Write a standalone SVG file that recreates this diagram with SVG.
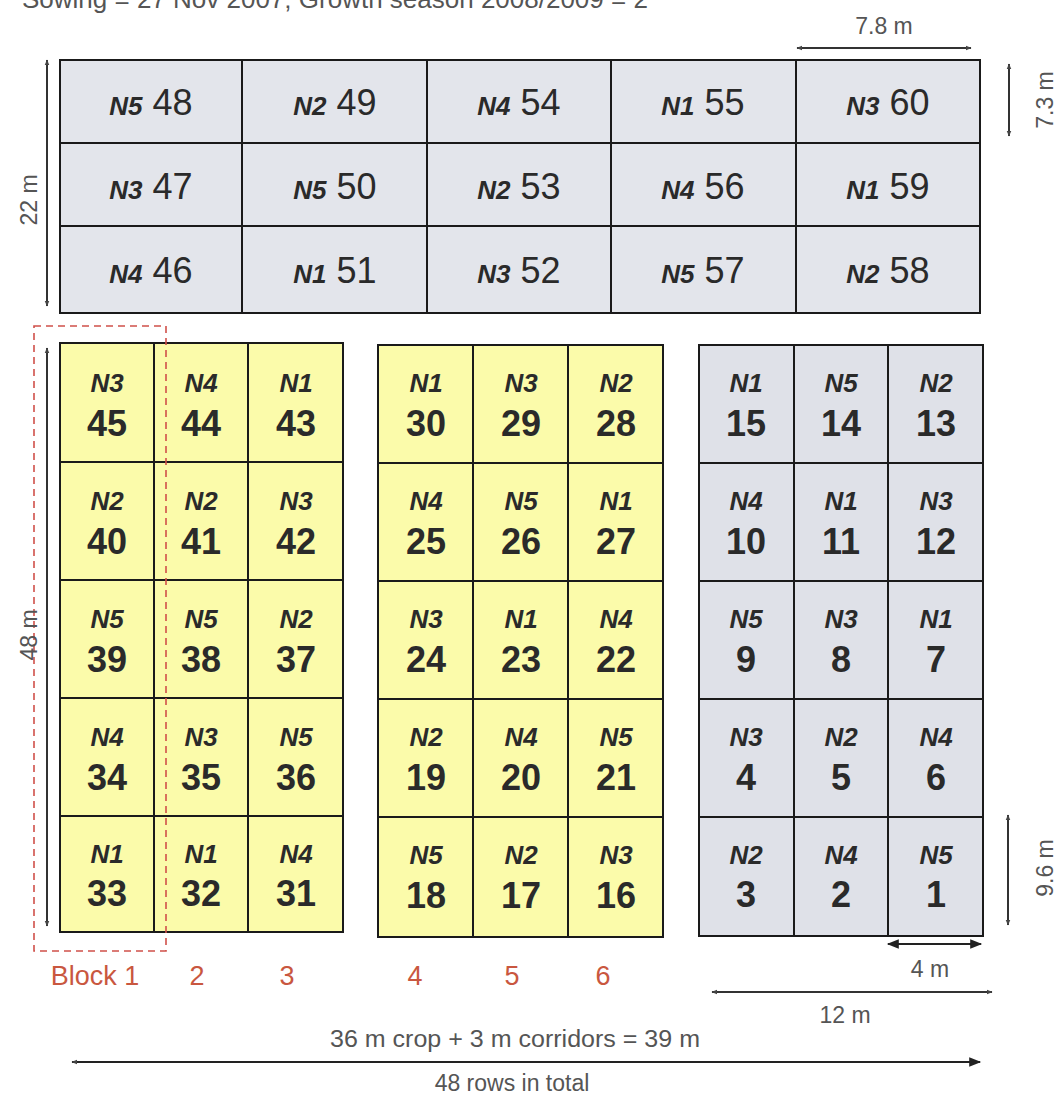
<svg xmlns="http://www.w3.org/2000/svg" width="1058" height="1095" viewBox="0 0 1058 1095">
<defs>
<style>
.cellT{fill:#e3e5eb;stroke:#1a1a1a;stroke-width:2}
.cellY{fill:#fbfbaa;stroke:#1a1a1a;stroke-width:2}
.cellG{fill:#dfe1e8;stroke:#1a1a1a;stroke-width:2}
.n{font-family:"Liberation Sans",Arial,sans-serif;font-weight:bold;font-style:italic;fill:#2a2a2a;font-size:26px}
.numT{font-family:"Liberation Sans",Arial,sans-serif;font-size:36px;fill:#2a2a2a}
.numB{font-family:"Liberation Sans",Arial,sans-serif;font-size:36px;font-weight:bold;fill:#2a2a2a}
.dim{stroke:#333;stroke-width:2;fill:none}
.dimt{font-family:"Liberation Sans",Arial,sans-serif;font-size:23px;fill:#555}
.blk{font-family:"Liberation Sans",Arial,sans-serif;font-size:27px;fill:#c9573f}
</style>
<marker id="ah" viewBox="0 0 10 10" refX="9" refY="5" markerWidth="6" markerHeight="6" orient="auto-start-reverse" markerUnits="userSpaceOnUse">
<path d="M0,1 L10,5 L0,9 z" fill="#444"/>
</marker>
<marker id="ahb" viewBox="0 0 10 10" refX="9" refY="5" markerWidth="14" markerHeight="12" orient="auto-start-reverse" markerUnits="userSpaceOnUse">
<path d="M0,1 L10,5 L0,9 z" fill="#222"/>
</marker>
</defs>
<rect width="1058" height="1095" fill="#ffffff"/>
<text x="22" y="8" font-family="Liberation Sans,Arial,sans-serif" font-size="26" fill="#555">Sowing = 27 Nov 2007; Growth season 2008/2009 = 2</text>

<g id="top-grid">
<g id="p48"><rect class="cellT" x="60" y="60" width="182" height="83"/><text x="151" y="115" text-anchor="middle"><tspan class="n">N5</tspan><tspan class="numT"> 48</tspan></text></g>
<g id="p49"><rect class="cellT" x="242" y="60" width="185" height="83"/><text x="335" y="115" text-anchor="middle"><tspan class="n">N2</tspan><tspan class="numT"> 49</tspan></text></g>
<g id="p54"><rect class="cellT" x="427" y="60" width="184" height="83"/><text x="519" y="115" text-anchor="middle"><tspan class="n">N4</tspan><tspan class="numT"> 54</tspan></text></g>
<g id="p55"><rect class="cellT" x="611" y="60" width="185" height="83"/><text x="703" y="115" text-anchor="middle"><tspan class="n">N1</tspan><tspan class="numT"> 55</tspan></text></g>
<g id="p60"><rect class="cellT" x="796" y="60" width="184" height="83"/><text x="888" y="115" text-anchor="middle"><tspan class="n">N3</tspan><tspan class="numT"> 60</tspan></text></g>

<g id="p47"><rect class="cellT" x="60" y="143" width="182" height="83"/><text x="151" y="199" text-anchor="middle"><tspan class="n">N3</tspan><tspan class="numT"> 47</tspan></text></g>
<g id="p50"><rect class="cellT" x="242" y="143" width="185" height="83"/><text x="335" y="199" text-anchor="middle"><tspan class="n">N5</tspan><tspan class="numT"> 50</tspan></text></g>
<g id="p53"><rect class="cellT" x="427" y="143" width="184" height="83"/><text x="519" y="199" text-anchor="middle"><tspan class="n">N2</tspan><tspan class="numT"> 53</tspan></text></g>
<g id="p56"><rect class="cellT" x="611" y="143" width="185" height="83"/><text x="703" y="199" text-anchor="middle"><tspan class="n">N4</tspan><tspan class="numT"> 56</tspan></text></g>
<g id="p59"><rect class="cellT" x="796" y="143" width="184" height="83"/><text x="888" y="199" text-anchor="middle"><tspan class="n">N1</tspan><tspan class="numT"> 59</tspan></text></g>

<g id="p46"><rect class="cellT" x="60" y="226" width="182" height="87"/><text x="151" y="283" text-anchor="middle"><tspan class="n">N4</tspan><tspan class="numT"> 46</tspan></text></g>
<g id="p51"><rect class="cellT" x="242" y="226" width="185" height="87"/><text x="335" y="283" text-anchor="middle"><tspan class="n">N1</tspan><tspan class="numT"> 51</tspan></text></g>
<g id="p52"><rect class="cellT" x="427" y="226" width="184" height="87"/><text x="519" y="283" text-anchor="middle"><tspan class="n">N3</tspan><tspan class="numT"> 52</tspan></text></g>
<g id="p57"><rect class="cellT" x="611" y="226" width="185" height="87"/><text x="703" y="283" text-anchor="middle"><tspan class="n">N5</tspan><tspan class="numT"> 57</tspan></text></g>
<g id="p58"><rect class="cellT" x="796" y="226" width="184" height="87"/><text x="888" y="283" text-anchor="middle"><tspan class="n">N2</tspan><tspan class="numT"> 58</tspan></text></g>
</g>

<g id="yellow-left">
<g id="p45"><rect class="cellY" x="60" y="343" width="94" height="119"/><text class="n" x="107" y="392" text-anchor="middle">N3</text><text class="numB" x="107" y="436" text-anchor="middle">45</text></g>
<g id="p44"><rect class="cellY" x="154" y="343" width="94" height="119"/><text class="n" x="201" y="392" text-anchor="middle">N4</text><text class="numB" x="201" y="436" text-anchor="middle">44</text></g>
<g id="p43"><rect class="cellY" x="248" y="343" width="95" height="119"/><text class="n" x="296" y="392" text-anchor="middle">N1</text><text class="numB" x="296" y="436" text-anchor="middle">43</text></g>

<g id="p40"><rect class="cellY" x="60" y="462" width="94" height="118"/><text class="n" x="107" y="510" text-anchor="middle">N2</text><text class="numB" x="107" y="554" text-anchor="middle">40</text></g>
<g id="p41"><rect class="cellY" x="154" y="462" width="94" height="118"/><text class="n" x="201" y="510" text-anchor="middle">N2</text><text class="numB" x="201" y="554" text-anchor="middle">41</text></g>
<g id="p42"><rect class="cellY" x="248" y="462" width="95" height="118"/><text class="n" x="296" y="510" text-anchor="middle">N3</text><text class="numB" x="296" y="554" text-anchor="middle">42</text></g>

<g id="p39"><rect class="cellY" x="60" y="580" width="94" height="118"/><text class="n" x="107" y="628" text-anchor="middle">N5</text><text class="numB" x="107" y="672" text-anchor="middle">39</text></g>
<g id="p38"><rect class="cellY" x="154" y="580" width="94" height="118"/><text class="n" x="201" y="628" text-anchor="middle">N5</text><text class="numB" x="201" y="672" text-anchor="middle">38</text></g>
<g id="p37"><rect class="cellY" x="248" y="580" width="95" height="118"/><text class="n" x="296" y="628" text-anchor="middle">N2</text><text class="numB" x="296" y="672" text-anchor="middle">37</text></g>

<g id="p34"><rect class="cellY" x="60" y="698" width="94" height="118"/><text class="n" x="107" y="746" text-anchor="middle">N4</text><text class="numB" x="107" y="790" text-anchor="middle">34</text></g>
<g id="p35"><rect class="cellY" x="154" y="698" width="94" height="118"/><text class="n" x="201" y="746" text-anchor="middle">N3</text><text class="numB" x="201" y="790" text-anchor="middle">35</text></g>
<g id="p36"><rect class="cellY" x="248" y="698" width="95" height="118"/><text class="n" x="296" y="746" text-anchor="middle">N5</text><text class="numB" x="296" y="790" text-anchor="middle">36</text></g>

<g id="p33"><rect class="cellY" x="60" y="816" width="94" height="116"/><text class="n" x="107" y="863" text-anchor="middle">N1</text><text class="numB" x="107" y="906" text-anchor="middle">33</text></g>
<g id="p32"><rect class="cellY" x="154" y="816" width="94" height="116"/><text class="n" x="201" y="863" text-anchor="middle">N1</text><text class="numB" x="201" y="906" text-anchor="middle">32</text></g>
<g id="p31"><rect class="cellY" x="248" y="816" width="95" height="116"/><text class="n" x="296" y="863" text-anchor="middle">N4</text><text class="numB" x="296" y="906" text-anchor="middle">31</text></g>
</g>

<g id="yellow-mid">
<g id="p30"><rect class="cellY" x="378" y="345" width="95" height="118"/><text class="n" x="426" y="392" text-anchor="middle">N1</text><text class="numB" x="426" y="436" text-anchor="middle">30</text></g>
<g id="p29"><rect class="cellY" x="473" y="345" width="95" height="118"/><text class="n" x="521" y="392" text-anchor="middle">N3</text><text class="numB" x="521" y="436" text-anchor="middle">29</text></g>
<g id="p28"><rect class="cellY" x="568" y="345" width="95" height="118"/><text class="n" x="616" y="392" text-anchor="middle">N2</text><text class="numB" x="616" y="436" text-anchor="middle">28</text></g>

<g id="p25"><rect class="cellY" x="378" y="463" width="95" height="118"/><text class="n" x="426" y="510" text-anchor="middle">N4</text><text class="numB" x="426" y="554" text-anchor="middle">25</text></g>
<g id="p26"><rect class="cellY" x="473" y="463" width="95" height="118"/><text class="n" x="521" y="510" text-anchor="middle">N5</text><text class="numB" x="521" y="554" text-anchor="middle">26</text></g>
<g id="p27"><rect class="cellY" x="568" y="463" width="95" height="118"/><text class="n" x="616" y="510" text-anchor="middle">N1</text><text class="numB" x="616" y="554" text-anchor="middle">27</text></g>

<g id="p24"><rect class="cellY" x="378" y="581" width="95" height="118"/><text class="n" x="426" y="628" text-anchor="middle">N3</text><text class="numB" x="426" y="672" text-anchor="middle">24</text></g>
<g id="p23"><rect class="cellY" x="473" y="581" width="95" height="118"/><text class="n" x="521" y="628" text-anchor="middle">N1</text><text class="numB" x="521" y="672" text-anchor="middle">23</text></g>
<g id="p22"><rect class="cellY" x="568" y="581" width="95" height="118"/><text class="n" x="616" y="628" text-anchor="middle">N4</text><text class="numB" x="616" y="672" text-anchor="middle">22</text></g>

<g id="p19"><rect class="cellY" x="378" y="699" width="95" height="118"/><text class="n" x="426" y="746" text-anchor="middle">N2</text><text class="numB" x="426" y="790" text-anchor="middle">19</text></g>
<g id="p20"><rect class="cellY" x="473" y="699" width="95" height="118"/><text class="n" x="521" y="746" text-anchor="middle">N4</text><text class="numB" x="521" y="790" text-anchor="middle">20</text></g>
<g id="p21"><rect class="cellY" x="568" y="699" width="95" height="118"/><text class="n" x="616" y="746" text-anchor="middle">N5</text><text class="numB" x="616" y="790" text-anchor="middle">21</text></g>

<g id="p18"><rect class="cellY" x="378" y="817" width="95" height="120"/><text class="n" x="426" y="864" text-anchor="middle">N5</text><text class="numB" x="426" y="908" text-anchor="middle">18</text></g>
<g id="p17"><rect class="cellY" x="473" y="817" width="95" height="120"/><text class="n" x="521" y="864" text-anchor="middle">N2</text><text class="numB" x="521" y="908" text-anchor="middle">17</text></g>
<g id="p16"><rect class="cellY" x="568" y="817" width="95" height="120"/><text class="n" x="616" y="864" text-anchor="middle">N3</text><text class="numB" x="616" y="908" text-anchor="middle">16</text></g>
</g>

<g id="gray-right">
<g id="p15"><rect class="cellG" x="699" y="345" width="95" height="118"/><text class="n" x="746" y="392" text-anchor="middle">N1</text><text class="numB" x="746" y="436" text-anchor="middle">15</text></g>
<g id="p14"><rect class="cellG" x="794" y="345" width="94" height="118"/><text class="n" x="841" y="392" text-anchor="middle">N5</text><text class="numB" x="841" y="436" text-anchor="middle">14</text></g>
<g id="p13"><rect class="cellG" x="888" y="345" width="95" height="118"/><text class="n" x="936" y="392" text-anchor="middle">N2</text><text class="numB" x="936" y="436" text-anchor="middle">13</text></g>

<g id="p10"><rect class="cellG" x="699" y="463" width="95" height="118"/><text class="n" x="746" y="510" text-anchor="middle">N4</text><text class="numB" x="746" y="554" text-anchor="middle">10</text></g>
<g id="p11"><rect class="cellG" x="794" y="463" width="94" height="118"/><text class="n" x="841" y="510" text-anchor="middle">N1</text><text class="numB" x="841" y="554" text-anchor="middle">11</text></g>
<g id="p12"><rect class="cellG" x="888" y="463" width="95" height="118"/><text class="n" x="936" y="510" text-anchor="middle">N3</text><text class="numB" x="936" y="554" text-anchor="middle">12</text></g>

<g id="p9"><rect class="cellG" x="699" y="581" width="95" height="118"/><text class="n" x="746" y="628" text-anchor="middle">N5</text><text class="numB" x="746" y="672" text-anchor="middle">9</text></g>
<g id="p8"><rect class="cellG" x="794" y="581" width="94" height="118"/><text class="n" x="841" y="628" text-anchor="middle">N3</text><text class="numB" x="841" y="672" text-anchor="middle">8</text></g>
<g id="p7"><rect class="cellG" x="888" y="581" width="95" height="118"/><text class="n" x="936" y="628" text-anchor="middle">N1</text><text class="numB" x="936" y="672" text-anchor="middle">7</text></g>

<g id="p4"><rect class="cellG" x="699" y="699" width="95" height="118"/><text class="n" x="746" y="746" text-anchor="middle">N3</text><text class="numB" x="746" y="790" text-anchor="middle">4</text></g>
<g id="p5"><rect class="cellG" x="794" y="699" width="94" height="118"/><text class="n" x="841" y="746" text-anchor="middle">N2</text><text class="numB" x="841" y="790" text-anchor="middle">5</text></g>
<g id="p6"><rect class="cellG" x="888" y="699" width="95" height="118"/><text class="n" x="936" y="746" text-anchor="middle">N4</text><text class="numB" x="936" y="790" text-anchor="middle">6</text></g>

<g id="p3"><rect class="cellG" x="699" y="817" width="95" height="119"/><text class="n" x="746" y="864" text-anchor="middle">N2</text><text class="numB" x="746" y="907" text-anchor="middle">3</text></g>
<g id="p2"><rect class="cellG" x="794" y="817" width="94" height="119"/><text class="n" x="841" y="864" text-anchor="middle">N4</text><text class="numB" x="841" y="907" text-anchor="middle">2</text></g>
<g id="p1"><rect class="cellG" x="888" y="817" width="95" height="119"/><text class="n" x="936" y="864" text-anchor="middle">N5</text><text class="numB" x="936" y="907" text-anchor="middle">1</text></g>
</g>

<g id="block1-outline">
<rect x="34" y="326" width="132" height="625" fill="none" stroke="#d0504a" stroke-width="1.6" stroke-dasharray="7,5"/>
</g>

<g id="connectors">
<line class="dim" x1="47" y1="60" x2="47" y2="306" marker-start="url(#ah)" marker-end="url(#ah)"/>
<line class="dim" x1="47" y1="348" x2="47" y2="926" marker-start="url(#ah)" marker-end="url(#ah)"/>
<line class="dim" x1="797" y1="48" x2="971" y2="48" marker-start="url(#ah)" marker-end="url(#ah)"/>
<line class="dim" x1="1009" y1="64" x2="1009" y2="136" marker-start="url(#ah)" marker-end="url(#ah)"/>
<line class="dim" x1="1008" y1="815" x2="1008" y2="925" marker-start="url(#ah)" marker-end="url(#ah)"/>
<line x1="888" y1="944" x2="981" y2="944" stroke="#222" stroke-width="2" marker-start="url(#ahb)" marker-end="url(#ahb)"/>
<line class="dim" x1="712" y1="992" x2="992" y2="992" marker-start="url(#ah)" marker-end="url(#ah)"/>
<line x1="72" y1="1062" x2="980" y2="1062" stroke="#222" stroke-width="2" marker-start="url(#ah)" marker-end="url(#ahb)"/>
</g>

<g id="labels">
<text class="dimt" x="884" y="34" text-anchor="middle">7.8 m</text>
<text class="dimt" transform="translate(1053,100) rotate(-90)" text-anchor="middle">7.3 m</text>
<text class="dimt" transform="translate(37,200) rotate(-90)" text-anchor="middle">22 m</text>
<text class="dimt" transform="translate(37,635) rotate(-90)" text-anchor="middle">48 m</text>
<text class="dimt" transform="translate(1053,868) rotate(-90)" text-anchor="middle">9.6 m</text>
<text class="dimt" x="930" y="977" text-anchor="middle">4 m</text>
<text class="dimt" x="845" y="1023" text-anchor="middle">12 m</text>
<text class="dimt" x="515" y="1047" text-anchor="middle" textLength="370" lengthAdjust="spacingAndGlyphs">36 m crop + 3 m corridors = 39 m</text>
<text class="dimt" x="512" y="1091" text-anchor="middle">48 rows in total</text>
<text class="blk" x="95" y="985" text-anchor="middle">Block 1</text>
<text class="blk" x="197" y="985" text-anchor="middle">2</text>
<text class="blk" x="287" y="985" text-anchor="middle">3</text>
<text class="blk" x="415" y="985" text-anchor="middle">4</text>
<text class="blk" x="512" y="985" text-anchor="middle">5</text>
<text class="blk" x="603" y="985" text-anchor="middle">6</text>
</g>
</svg>
